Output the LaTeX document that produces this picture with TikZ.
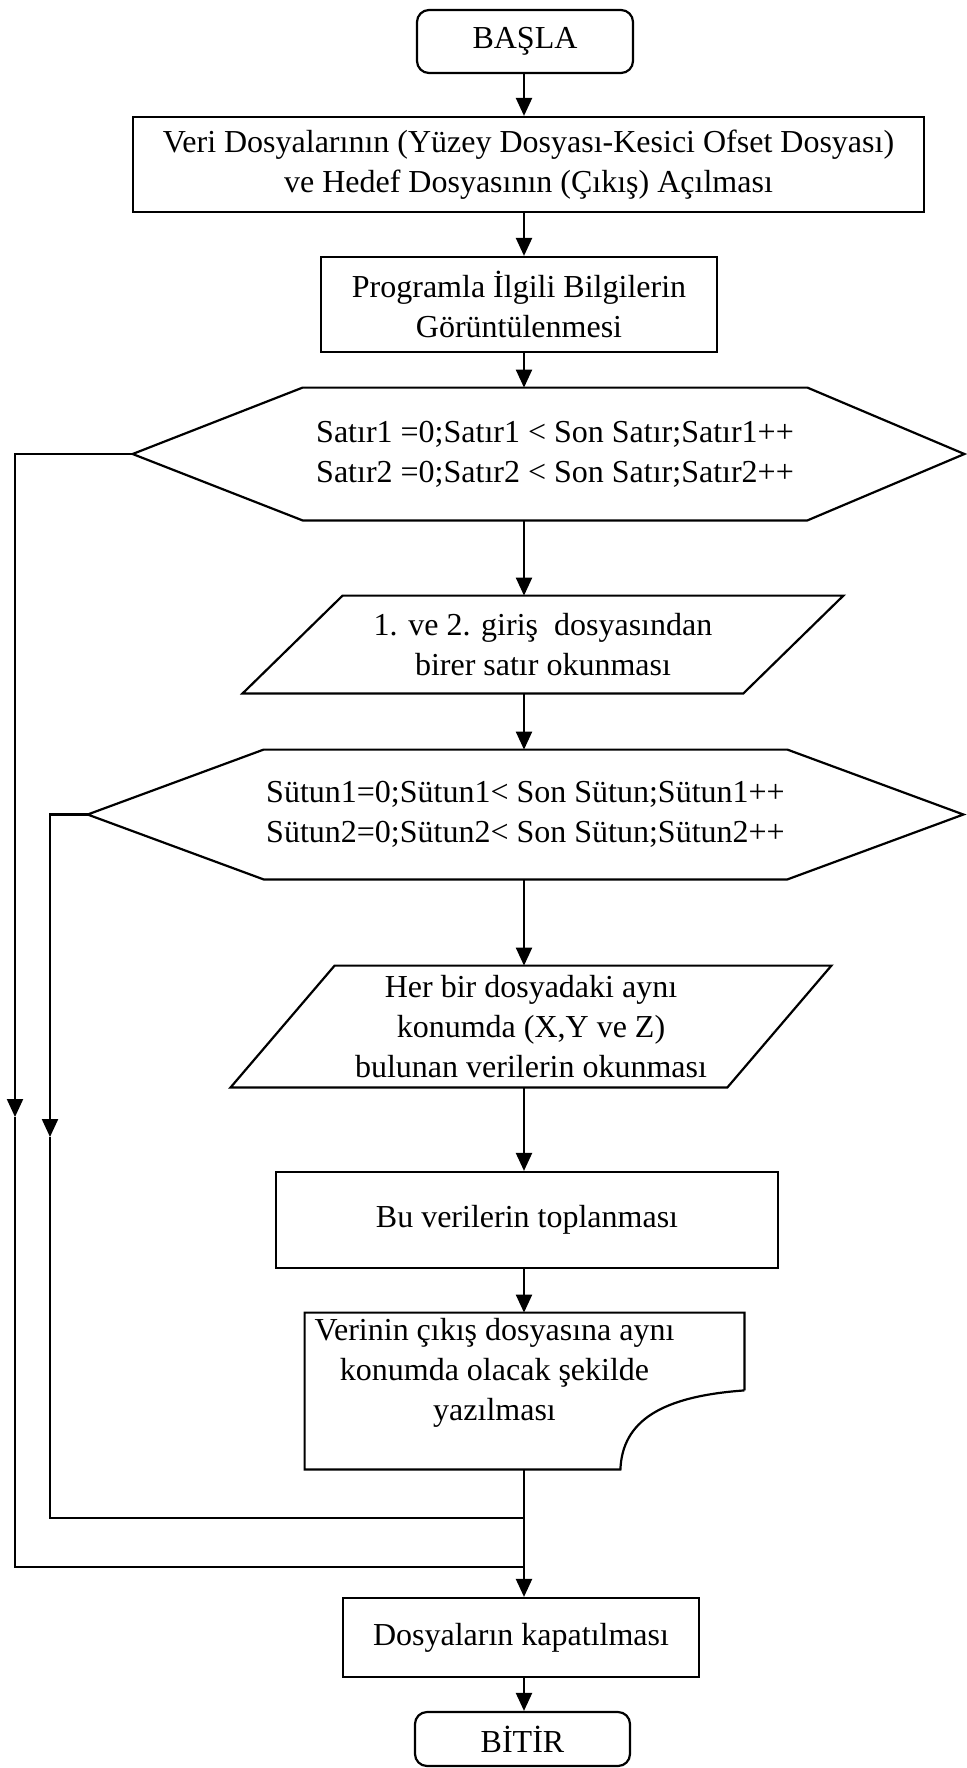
\documentclass[tikz,border=0pt]{standalone}
\usepackage{fontspec}
\setmainfont{Liberation Serif}
\usetikzlibrary{arrows.meta}

\begin{document}
\begin{tikzpicture}[x=0.5pt,y=-0.5pt,
  every node/.style={font=\fontsize{16}{20}\selectfont},
  box/.style={rectangle, draw, line width=1.1pt, align=center},
  termbox/.style={box, rounded corners=6pt},
  shapetext/.style={rectangle, align=center, inner sep=0pt},
  outline/.style={line width=1.1pt, line join=miter},
  arr/.style={-{Triangle[length=9pt,width=8pt]}, line width=1.1pt},
  link/.style={line width=1.1pt}
]
  \useasboundingbox (0,0) rectangle (966,1768);
  \coordinate (axis) at (524,0);

  \node[termbox, minimum width=108pt, minimum height=31.5pt] (start) at (525,41.5) {BAŞLA};
  \node[box, minimum width=395.5pt, minimum height=47.5pt] (open) at (528.5,164.5)
    {Veri Dosyalarının (Yüzey Dosyası-Kesici Ofset Dosyası)\\ve Hedef Dosyasının (Çıkış) Açılması};
  \node[box, minimum width=198pt, minimum height=47.5pt] (info) at (519,304.5)
    {Programla İlgili Bilgilerin\\Görüntülenmesi};

  \node[shapetext, minimum width=252pt, minimum height=66pt] (loop1) at (555,454)
    {Satır1 =0;Satır1 < Son Satır;Satır1++\\Satır2 =0;Satır2 < Son Satır;Satır2++};
  \coordinate (loop1w) at ([xshift=-85pt]loop1.west);
  \coordinate (loop1e) at ([xshift=78.5pt]loop1.east);
  \draw[outline] (loop1.north west) -- (loop1.north east) -- (loop1e) -- (loop1.south east)
    -- (loop1.south west) -- (loop1w) -- cycle;

  \node[shapetext, minimum width=250pt, minimum height=48.5pt] (read1) at (543,644.5)
    {1. ve 2. giriş\ \ dosyasından\\birer satır okunması};
  \draw[outline] ([xshift=25pt]read1.north west) -- ([xshift=25pt]read1.north east)
    -- ([xshift=-25pt]read1.south east) -- ([xshift=-25pt]read1.south west) -- cycle;

  \node[shapetext, minimum width=261.5pt, minimum height=64.5pt] (loop2) at (525.5,814.5)
    {Sütun1=0;Sütun1< Son Sütun;Sütun1++\\Sütun2=0;Sütun2< Son Sütun;Sütun2++};
  \coordinate (loop2w) at ([xshift=-88pt]loop2.west);
  \coordinate (loop2e) at ([xshift=88pt]loop2.east);
  \draw[outline] (loop2.north west) -- (loop2.north east) -- (loop2e) -- (loop2.south east)
    -- (loop2.south west) -- (loop2w) -- cycle;

  \node[shapetext, minimum width=248pt, minimum height=60.5pt] (read2) at (531,1026.5)
    {Her bir dosyadaki aynı\\konumda (X,Y ve Z)\\bulunan verilerin okunması};
  \draw[outline] ([xshift=26pt]read2.north west) -- ([xshift=26pt]read2.north east)
    -- ([xshift=-26pt]read2.south east) -- ([xshift=-26pt]read2.south west) -- cycle;

  \node[box, minimum width=251pt, minimum height=48pt] (sum) at (527,1220) {Bu verilerin toplanması};

  \node[shapetext, minimum width=219.5pt, minimum height=78pt] (write) at (524.5,1391) {};
  \node[shapetext] (writetext) at ([xshift=-15pt,yshift=9pt]write.center)
    {Verinin çıkış dosyasına aynı\\konumda olacak şekilde\\yazılması};
  \draw[outline] ([yshift=39.5pt]write.south east) -- (write.north east) -- (write.north west)
    -- (write.south west) -- ([xshift=-62pt]write.south east)
    .. controls +(1pt,24pt) and +(-42pt,-3pt) .. ([yshift=39.5pt]write.south east);

  \node[box, minimum width=178pt, minimum height=39.5pt] (close) at (521,1637.5) {Dosyaların kapatılması};
  \node[termbox, minimum width=107.5pt, minimum height=27pt] (end) at (522.5,1739) {BİTİR};

  \draw[arr] (start.south -| axis) -- (open.north -| axis);
  \draw[arr] (open.south -| axis) -- (info.north -| axis);
  \draw[arr] (info.south -| axis) -- (loop1.north -| axis);
  \draw[arr] (loop1.south -| axis) -- (read1.north -| axis);
  \draw[arr] (read1.south -| axis) -- (loop2.north -| axis);
  \draw[arr] (loop2.south -| axis) -- (read2.north -| axis);
  \draw[arr] (read2.south -| axis) -- (sum.north -| axis);
  \draw[arr] (sum.south -| axis) -- (write.north -| axis);
  \draw[arr] (write.south -| axis) -- (close.north -| axis);
  \draw[arr] (close.south -| axis) -- (end.north -| axis);

  \coordinate (outerdrop) at (15,1117);
  \coordinate (innerdrop) at (50,1137);
  \coordinate (outerjoin) at (524,1567);
  \coordinate (innerjoin) at (524,1518);
  \draw[arr] (loop1w) -| (outerdrop);
  \draw[link] (outerdrop) |- (outerjoin);
  \draw[arr] (loop2w) -| (innerdrop);
  \draw[link] (innerdrop) |- (innerjoin);
\end{tikzpicture}
\end{document}
